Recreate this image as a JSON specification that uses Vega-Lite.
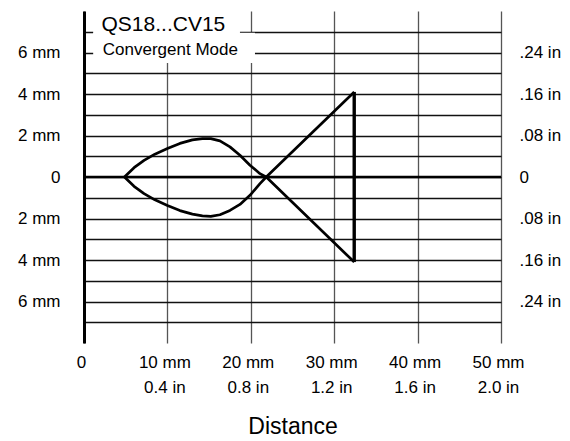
{
  "$schema": "https://vega.github.io/schema/vega-lite/v6.json",
  "width": 417,
  "height": 332,
  "autosize": "none",
  "padding": {"left": 84, "top": 11, "right": 69, "bottom": 98},
  "background": "white",
  "config": {
    "view": {"stroke": null},
    "axis": {"labelFont": "Liberation Sans", "titleFont": "Liberation Sans", "labelColor": "black", "titleColor": "black"},
    "text": {"font": "Liberation Sans"}
  },
  "data": {
    "values": [
      {"part": "upper", "order": 1, "x": 4.85, "y": 0},
      {"part": "upper", "order": 2, "x": 6.0, "y": 0.45},
      {"part": "upper", "order": 3, "x": 7.2, "y": 0.8},
      {"part": "upper", "order": 4, "x": 8.5, "y": 1.1},
      {"part": "upper", "order": 5, "x": 10.0, "y": 1.37},
      {"part": "upper", "order": 6, "x": 11.5, "y": 1.62},
      {"part": "upper", "order": 7, "x": 13.0, "y": 1.79},
      {"part": "upper", "order": 8, "x": 14.2, "y": 1.85},
      {"part": "upper", "order": 9, "x": 15.2, "y": 1.85},
      {"part": "upper", "order": 10, "x": 16.3, "y": 1.74},
      {"part": "upper", "order": 11, "x": 17.5, "y": 1.45},
      {"part": "upper", "order": 12, "x": 18.7, "y": 1.05},
      {"part": "upper", "order": 13, "x": 19.9, "y": 0.57},
      {"part": "upper", "order": 14, "x": 21.1, "y": 0.16},
      {"part": "upper", "order": 15, "x": 21.85, "y": 0},
      {"part": "upper", "order": 16, "x": 32.4, "y": -4.1},
      {"part": "lower", "order": 1, "x": 4.85, "y": 0},
      {"part": "lower", "order": 2, "x": 6.0, "y": -0.45},
      {"part": "lower", "order": 3, "x": 7.2, "y": -0.8},
      {"part": "lower", "order": 4, "x": 8.5, "y": -1.1},
      {"part": "lower", "order": 5, "x": 10.0, "y": -1.37},
      {"part": "lower", "order": 6, "x": 11.5, "y": -1.62},
      {"part": "lower", "order": 7, "x": 13.0, "y": -1.79},
      {"part": "lower", "order": 8, "x": 14.2, "y": -1.87},
      {"part": "lower", "order": 9, "x": 15.2, "y": -1.9},
      {"part": "lower", "order": 10, "x": 16.3, "y": -1.82},
      {"part": "lower", "order": 11, "x": 17.5, "y": -1.61},
      {"part": "lower", "order": 12, "x": 18.7, "y": -1.32},
      {"part": "lower", "order": 13, "x": 19.9, "y": -0.88},
      {"part": "lower", "order": 14, "x": 21.1, "y": -0.32},
      {"part": "lower", "order": 15, "x": 21.85, "y": 0},
      {"part": "lower", "order": 16, "x": 32.4, "y": 4.1},
      {"part": "edge", "order": 1, "x": 32.4, "y": -4.1},
      {"part": "edge", "order": 2, "x": 32.4, "y": 4.1}
    ]
  },
  "resolve": {"axis": {"y": "independent"}},
  "layer": [
    {
      "data": {"values": [{}]},
      "mark": {"type": "rule", "color": "black", "strokeWidth": 2.5},
      "encoding": {
        "y": {
          "datum": 0,
          "type": "quantitative",
          "scale": {"domain": [-8, 8], "nice": false, "zero": false},
          "axis": {
            "orient": "right",
            "values": [-7, -6, -5, -4, -3, -2, -1, 0, 1, 2, 3, 4, 5, 6, 7],
            "grid": true,
            "gridColor": "#111111",
            "gridWidth": 1.3,
            "gridOpacity": 1,
            "ticks": false,
            "domain": false,
            "labelExpr": "abs(datum.value) % 2 == 1 ? '' : (datum.value == 0 ? '0' : '.' + format(abs(datum.value) * 4, '02d') + ' in')",
            "labelFontSize": 17,
            "labelPadding": 18,
            "labelAlign": "left",
            "labelBaseline": "middle",
            "title": null,
            "zindex": 0
          }
        }
      }
    },
    {
      "data": {"values": [{}]},
      "mark": {"type": "rect", "fill": "white", "strokeWidth": 0},
      "encoding": {
        "x": {"datum": 1.1, "type": "quantitative"},
        "x2": {"datum": 18.7},
        "y": {"datum": 6.45, "type": "quantitative", "axis": null},
        "y2": {"datum": 8}
      }
    },
    {
      "data": {"values": [{}]},
      "mark": {"type": "rect", "fill": "white", "strokeWidth": 0},
      "encoding": {
        "x": {"datum": 1.1, "type": "quantitative"},
        "x2": {"datum": 20.5},
        "y": {"datum": 5.5, "type": "quantitative", "axis": null},
        "y2": {"datum": 6.95}
      }
    },
    {
      "data": {"values": [{}]},
      "mark": {"type": "text", "text": "QS18...CV15", "align": "left", "baseline": "alphabetic", "fontSize": 21, "fill": "black", "fontWeight": "normal"},
      "encoding": {
        "x": {"datum": 2.1, "type": "quantitative"},
        "y": {"datum": 7.05, "type": "quantitative", "axis": null}
      }
    },
    {
      "data": {"values": [{}]},
      "mark": {"type": "text", "text": "Convergent Mode", "align": "left", "baseline": "alphabetic", "fontSize": 17, "fill": "black", "fontWeight": "normal"},
      "encoding": {
        "x": {"datum": 2.25, "type": "quantitative"},
        "y": {"datum": 5.88, "type": "quantitative", "axis": null}
      }
    },
    {
      "transform": [{"filter": "datum.part != 'edge'"}],
      "mark": {"type": "line", "color": "black", "strokeWidth": 2.7, "strokeJoin": "round"},
      "encoding": {
        "x": {
          "field": "x",
          "type": "quantitative",
          "scale": {"domain": [0, 50], "nice": false, "zero": false},
          "axis": {
            "values": [0, 10, 20, 30, 40, 50],
            "grid": true,
            "gridColor": "#555555",
            "gridWidth": 1.3,
            "gridOpacity": 1,
            "domain": false,
            "ticks": false,
            "labelFlush": false,
            "labelExpr": "datum.value == 0 ? '0' : [datum.value + ' mm', format(datum.value * 0.04, '.1f') + ' in']",
            "labelFontSize": 17,
            "labelPadding": 11,
            "labelLineHeight": 25,
            "labelOffset": -3,
            "title": "Distance",
            "titleFontSize": 23,
            "titleFontWeight": "normal",
            "titlePadding": 20,
            "zindex": 0
          }
        },
        "y": {
          "field": "y",
          "type": "quantitative",
          "scale": {"domain": [-8, 8], "nice": false, "zero": false},
          "axis": {
            "orient": "left",
            "values": [-6, -4, -2, 0, 2, 4, 6],
            "grid": false,
            "ticks": false,
            "domain": true,
            "domainColor": "black",
            "domainWidth": 3,
            "labelExpr": "datum.value == 0 ? '0' : abs(datum.value) + ' mm'",
            "labelFontSize": 17,
            "labelPadding": 24,
            "labelBaseline": "middle",
            "title": null
          }
        },
        "detail": {"field": "part"},
        "order": {"field": "order", "type": "quantitative"}
      }
    },
    {
      "transform": [{"filter": "datum.part == 'edge'"}],
      "mark": {"type": "line", "color": "black", "strokeWidth": 3.4},
      "encoding": {
        "x": {"field": "x", "type": "quantitative"},
        "y": {"field": "y", "type": "quantitative", "axis": null},
        "order": {"field": "order", "type": "quantitative"}
      }
    }
  ]
}
